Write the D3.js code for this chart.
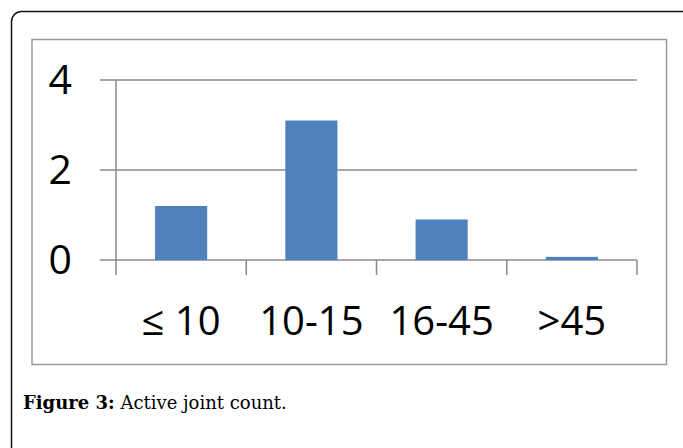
<!DOCTYPE html>
<html>
<head>
<meta charset="utf-8">
<script src="https://cdn.jsdelivr.net/npm/d3@7"></script>
<style>
  html, body { margin: 0; padding: 0; background: #fff; }
  svg { display: block; }
</style>
</head>
<body>
<div id="chart"></div>
<script>
// Active joint count by range
const categories = ["≤ 10", "10-15", "16-45", ">45"];
const values = [1.2, 3.1, 0.9, 0.07];
const yTicks = [0, 2, 4];
const captionLabel = "Figure 3:";
const captionText = " Active joint count.";

const W = 683, H = 448;
const svg = d3.select("#chart").append("svg")
  .attr("width", W).attr("height", H);

// outer figure frame (continues past the right and bottom edges)
svg.append("rect")
  .attr("x", 11.5).attr("y", 11.5)
  .attr("width", 680).attr("height", 520)
  .attr("rx", 10).attr("ry", 10)
  .attr("fill", "none").attr("stroke", "#111").attr("stroke-width", 1.5);

// chart area border
svg.append("rect")
  .attr("x", 32).attr("y", 39.5)
  .attr("width", 634.5).attr("height", 325)
  .attr("fill", "#fff").attr("stroke", "#9a9a9a").attr("stroke-width", 1.5);

const plotLeft = 116, plotRight = 637;
const x = d3.scaleBand().domain(categories)
  .range([plotLeft, plotRight]).paddingInner(0.6).paddingOuter(0.3);
const xSlots = d3.scaleBand().domain(categories)
  .range([plotLeft, plotRight]).padding(0);
const y = d3.scaleLinear().domain([0, 4]).range([260, 80]);

const gridColor = "#8a8a8a";
const g = svg.append("g");

// horizontal gridlines
g.selectAll("line.grid").data(yTicks).join("line")
  .attr("class", "grid")
  .attr("x1", 100).attr("x2", plotRight)
  .attr("y1", d => y(d)).attr("y2", d => y(d))
  .attr("stroke", gridColor).attr("stroke-width", 1.5);

// vertical axis line
g.append("line")
  .attr("x1", plotLeft).attr("x2", plotLeft)
  .attr("y1", y(4)).attr("y2", y(0) + 15)
  .attr("stroke", gridColor).attr("stroke-width", 1.5);

// category boundary ticks below the baseline
const bounds = categories.map(c => xSlots(c) + xSlots.bandwidth());
g.selectAll("line.tick").data(bounds).join("line")
  .attr("class", "tick")
  .attr("x1", d => d).attr("x2", d => d)
  .attr("y1", y(0)).attr("y2", y(0) + 15)
  .attr("stroke", gridColor).attr("stroke-width", 1.5);

// bars
g.selectAll("rect.bar").data(values).join("rect")
  .attr("class", "bar")
  .attr("x", (d, i) => x(categories[i]))
  .attr("width", x.bandwidth())
  .attr("y", d => y(d))
  .attr("height", d => y(0) - y(d))
  .attr("fill", "#4f81bd");

// y tick labels
g.selectAll("text.ylab").data(yTicks).join("text")
  .attr("class", "ylab")
  .attr("x", 72).attr("y", d => y(d) + 14)
  .attr("text-anchor", "end")
  .attr("font-family", "'Open Sans', sans-serif")
  .attr("font-size", 41)
  .attr("fill", "#000")
  .text(d => d);

// x category labels
g.selectAll("text.xlab").data(categories).join("text")
  .attr("class", "xlab")
  .attr("x", d => x(d) + x.bandwidth() / 2)
  .attr("y", 335)
  .attr("text-anchor", "middle")
  .attr("font-family", "'Open Sans', sans-serif")
  .attr("font-size", 40)
  .attr("fill", "#000")
  .text(d => d);

// caption
const cap = svg.append("text")
  .attr("x", 23).attr("y", 409)
  .attr("font-family", "'DejaVu Serif', 'Liberation Serif', serif")
  .attr("font-size", 18)
  .attr("fill", "#000");
cap.append("tspan").attr("font-weight", "bold").text(captionLabel);
cap.append("tspan").text(captionText);
</script>
</body>
</html>
